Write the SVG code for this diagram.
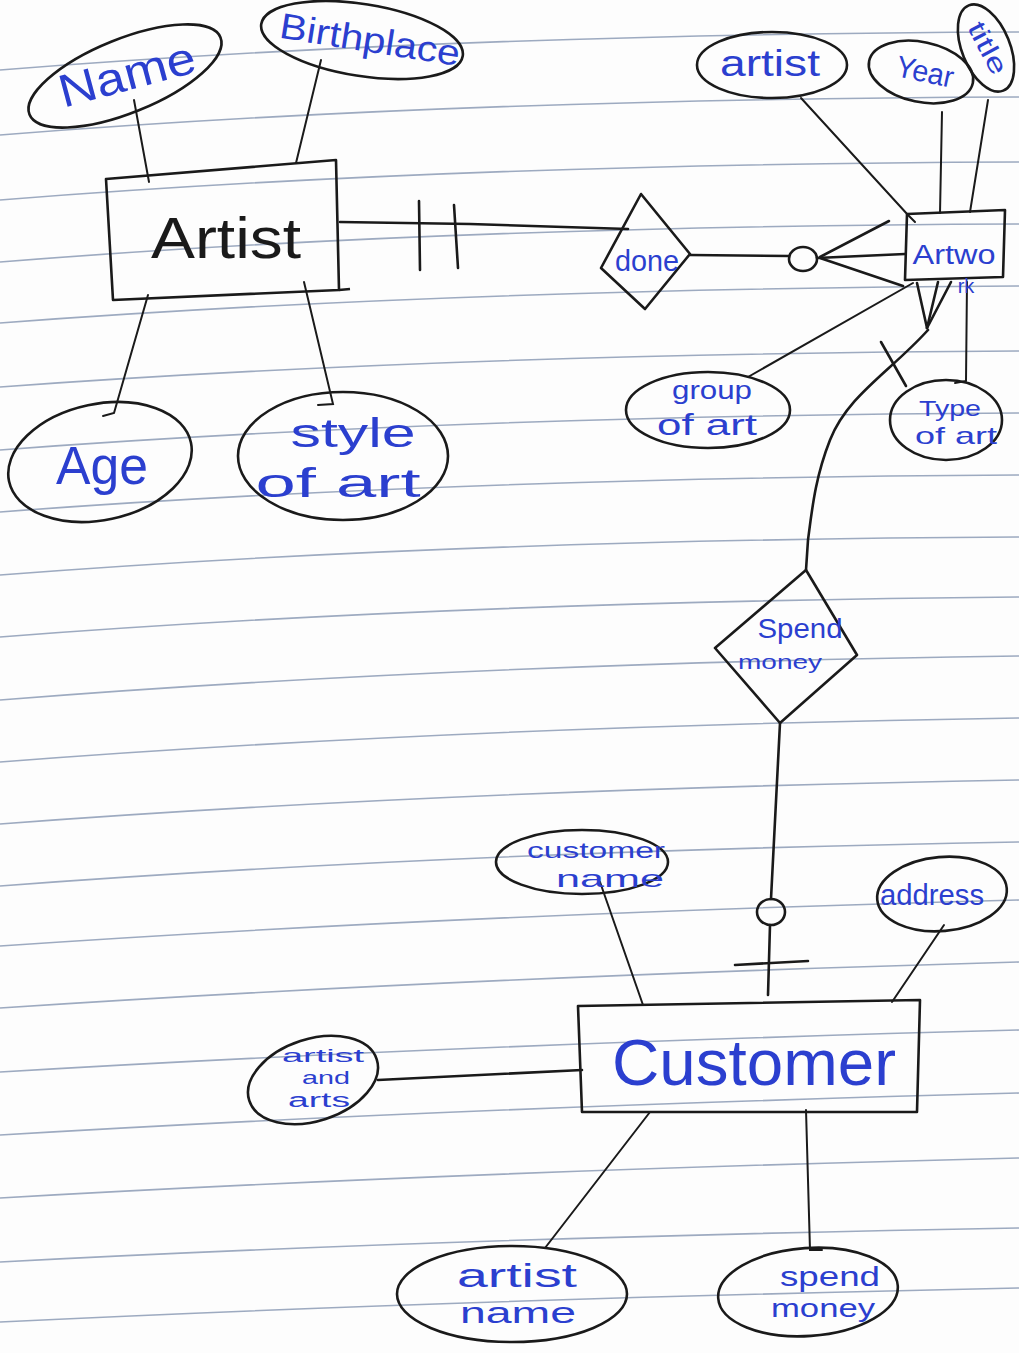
<svg xmlns="http://www.w3.org/2000/svg" width="1019" height="1353" viewBox="0 0 1019 1353">
<defs>
<style>
.paper{fill:none;stroke:#8c9bb5;stroke-width:1.6;opacity:0.85}
.ln{fill:none;stroke:#1a1a1a;stroke-width:2.6;stroke-linecap:round;stroke-linejoin:round}
.thin{fill:none;stroke:#1a1a1a;stroke-width:2;stroke-linecap:round}
.shape{fill:none;stroke:#1a1a1a;stroke-width:2.6;stroke-linejoin:round}
.t{font-family:"Liberation Sans","DejaVu Sans",sans-serif;fill:#2b3fcf;text-anchor:middle}
.k{font-family:"Liberation Sans","DejaVu Sans",sans-serif;fill:#1a1a1a;text-anchor:middle}
</style>
</defs>
<rect x="0" y="0" width="1019" height="1353" fill="#fdfdfd"/>
<g id="paper-lines">
<path class="paper" d="M0,70 Q450,34 1019,32"/>
<path class="paper" d="M0,135 Q450,99 1019,97"/>
<path class="paper" d="M0,200 Q450,164 1019,162"/>
<path class="paper" d="M0,262 Q450,226 1019,224"/>
<path class="paper" d="M0,323 Q450,289 1019,286"/>
<path class="paper" d="M0,387 Q450,354 1019,351"/>
<path class="paper" d="M0,450 Q450,416 1019,413"/>
<path class="paper" d="M0,512 Q450,478 1019,475"/>
<path class="paper" d="M0,575 Q450,540 1019,537"/>
<path class="paper" d="M0,637 Q450,602 1019,597"/>
<path class="paper" d="M0,700 Q450,664 1019,656"/>
<path class="paper" d="M0,762 Q450,727 1019,718"/>
<path class="paper" d="M0,824 Q450,790 1019,780"/>
<path class="paper" d="M0,886 Q450,852 1019,842"/>
<path class="paper" d="M0,946 Q450,915 1019,900"/>
<path class="paper" d="M0,1008 Q450,978 1019,962"/>
<path class="paper" d="M0,1072 Q450,1045 1019,1030"/>
<path class="paper" d="M0,1135 Q450,1108 1019,1093"/>
<path class="paper" d="M0,1198 Q450,1172 1019,1158"/>
<path class="paper" d="M0,1262 Q450,1238 1019,1228"/>
<path class="paper" d="M0,1322 Q450,1300 1019,1288"/>
</g>

<g id="connectors">
<path class="thin" d="M134,100 L149,182" stroke="#2b3fcf"/>
<path class="thin" d="M321,60 L296,163"/>
<path class="thin" d="M148,295 L114,413 L103,416"/>
<path class="thin" d="M304,282 L333,404 L318,405"/>
<path class="ln" d="M340,222 L470,224 L628,229"/>
<path class="ln" d="M419,201 L420,270"/>
<path class="ln" d="M454,205 L458,268"/>
<path class="ln" d="M690,255 L789,256"/>
<ellipse class="ln" cx="803" cy="259" rx="14" ry="12"/>
<path class="ln" d="M817,258 L905,254"/>
<path class="ln" d="M820,257 L889,221"/>
<path class="ln" d="M820,258 L903,286"/>
<path class="thin" d="M801,98 L908,215 L915,222"/>
<path class="thin" d="M942,112 L940,213"/>
<path class="thin" d="M988,100 L970,212"/>
<path class="thin" d="M748,377 L913,283"/>
<path class="thin" d="M967,282 L966,381 L955,383"/>
<path class="ln" d="M927,328 L917,283"/>
<path class="ln" d="M927,328 L938,282"/>
<path class="ln" d="M927,328 L951,282"/>
<path class="ln" d="M928,330 C890,372 848,395 830,440 C815,478 812,510 808,540 L806,570"/>
<path class="ln" d="M881,342 L906,386"/>
<path class="ln" d="M780,723 L771,899"/>
<ellipse class="ln" cx="771" cy="912" rx="14" ry="13"/>
<path class="ln" d="M770,925 L768,995"/>
<path class="ln" d="M735,965 L808,961"/>
<path class="thin" d="M600,882 L643,1005"/>
<path class="thin" d="M944,925 L892,1002"/>
<path class="ln" d="M378,1080 L582,1070"/>
<path class="thin" d="M650,1112 L545,1248"/>
<path class="thin" d="M806,1110 L810,1250 L822,1250"/>
</g>

<g id="artist">
<path class="shape" d="M106,179 L336,160 L339,290 L113,300 Z"/>
<path class="shape" d="M339,290 L350,289"/>
<text class="k" x="226" y="258" font-size="58" textLength="150" lengthAdjust="spacingAndGlyphs">Artist</text>
</g>
<g id="attr-name">
<ellipse class="shape" cx="125" cy="76" rx="103" ry="37" transform="rotate(-22 125 76)"/>
<text class="t" x="128" y="90" font-size="46" transform="rotate(-15 128 78)" textLength="140" lengthAdjust="spacingAndGlyphs">Name</text>
</g>
<g id="attr-birthplace">
<ellipse class="shape" cx="362" cy="40" rx="102" ry="36" transform="rotate(9 362 40)"/>
<text class="t" x="370" y="52" font-size="36" transform="rotate(9 370 40)" textLength="182" lengthAdjust="spacingAndGlyphs">Birthplace</text>
</g>
<g id="attr-age">
<ellipse class="shape" cx="100" cy="462" rx="93" ry="58" transform="rotate(-12 100 462)"/>
<text class="t" x="102" y="484" font-size="54" textLength="92" lengthAdjust="spacingAndGlyphs">Age</text>
</g>
<g id="attr-style-of-art">
<ellipse class="shape" cx="343" cy="456" rx="105" ry="64"/>
<text class="t" x="353" y="447" font-size="40" textLength="125" lengthAdjust="spacingAndGlyphs">style</text>
<text class="t" x="338" y="497" font-size="40" textLength="165" lengthAdjust="spacingAndGlyphs">of art</text>
</g>
<g id="rel-done">
<path class="shape" d="M641,194 L690,254 L645,309 L601,268 Z"/>
<text class="t" x="647" y="271" font-size="30" textLength="64" lengthAdjust="spacingAndGlyphs">done</text>
</g>
<g id="artwork">
<path class="shape" d="M907,214 L1005,210 L1003,277 L905,280 Z"/>
<text class="t" x="954" y="264" font-size="27" textLength="83" lengthAdjust="spacingAndGlyphs">Artwo</text>
<text class="t" x="966" y="293" font-size="20">rk</text>
</g>
<g id="attr-artist">
<ellipse class="shape" cx="772" cy="65" rx="75" ry="33"/>
<text class="t" x="770" y="76" font-size="36" textLength="100" lengthAdjust="spacingAndGlyphs">artist</text>
</g>
<g id="attr-year">
<ellipse class="shape" cx="921" cy="72" rx="53" ry="30" transform="rotate(12 921 72)"/>
<text class="t" x="925" y="82" font-size="30" transform="rotate(12 925 72)" textLength="58" lengthAdjust="spacingAndGlyphs">Year</text>
</g>
<g id="attr-title">
<ellipse class="shape" cx="986" cy="48" rx="24" ry="46" transform="rotate(-22 986 48)"/>
<text class="t" x="988" y="57" font-size="26" transform="rotate(62 988 48)" textLength="56" lengthAdjust="spacingAndGlyphs">title</text>
</g>
<g id="attr-group-of-art">
<ellipse class="shape" cx="708" cy="410" rx="82" ry="38"/>
<text class="t" x="712" y="399" font-size="26" textLength="80" lengthAdjust="spacingAndGlyphs">group</text>
<text class="t" x="707" y="435" font-size="30" textLength="100" lengthAdjust="spacingAndGlyphs">of art</text>
</g>
<g id="attr-type-of-art">
<ellipse class="shape" cx="946" cy="420" rx="56" ry="40"/>
<text class="t" x="950" y="416" font-size="22" textLength="62" lengthAdjust="spacingAndGlyphs">Type</text>
<text class="t" x="956" y="444" font-size="24" textLength="82" lengthAdjust="spacingAndGlyphs">of art</text>
</g>
<g id="rel-spend-money">
<path class="shape" d="M806,570 L857,655 L780,723 L715,648 Z"/>
<text class="t" x="800" y="638" font-size="28" textLength="85" lengthAdjust="spacingAndGlyphs">Spend</text>
<text class="t" x="780" y="669" font-size="20" textLength="84" lengthAdjust="spacingAndGlyphs">money</text>
</g>
<g id="customer">
<path class="shape" d="M578,1006 L920,1000 L917,1112 L582,1112 Z"/>
<text class="t" x="754" y="1085" font-size="64" textLength="284" lengthAdjust="spacingAndGlyphs">Customer</text>
</g>
<g id="attr-customer-name">
<ellipse class="shape" cx="582" cy="862" rx="86" ry="32"/>
<text class="t" x="596" y="858" font-size="22" textLength="138" lengthAdjust="spacingAndGlyphs">customer</text>
<text class="t" x="610" y="887" font-size="24" textLength="108" lengthAdjust="spacingAndGlyphs">name</text>
</g>
<g id="attr-address">
<ellipse class="shape" cx="942" cy="894" rx="65" ry="37" transform="rotate(-5 942 894)"/>
<text class="t" x="932" y="905" font-size="30" textLength="104" lengthAdjust="spacingAndGlyphs">address</text>
</g>
<g id="attr-artist-and-arts">
<ellipse class="shape" cx="313" cy="1080" rx="67" ry="41" transform="rotate(-18 313 1080)"/>
<text class="t" x="323" y="1062" font-size="19" textLength="82" lengthAdjust="spacingAndGlyphs">artist</text>
<text class="t" x="326" y="1084" font-size="19" textLength="48" lengthAdjust="spacingAndGlyphs">and</text>
<text class="t" x="319" y="1107" font-size="20" textLength="62" lengthAdjust="spacingAndGlyphs">arts</text>
</g>
<g id="attr-artist-name">
<ellipse class="shape" cx="512" cy="1294" rx="115" ry="48"/>
<text class="t" x="517" y="1287" font-size="34" textLength="120" lengthAdjust="spacingAndGlyphs">artist</text>
<text class="t" x="518" y="1323" font-size="30" textLength="116" lengthAdjust="spacingAndGlyphs">name</text>
</g>
<g id="attr-spend-money">
<ellipse class="shape" cx="808" cy="1292" rx="90" ry="44" transform="rotate(-4 808 1292)"/>
<text class="t" x="830" y="1286" font-size="27" textLength="100" lengthAdjust="spacingAndGlyphs">spend</text>
<text class="t" x="823" y="1317" font-size="26" textLength="104" lengthAdjust="spacingAndGlyphs">money</text>
</g>
</svg>
